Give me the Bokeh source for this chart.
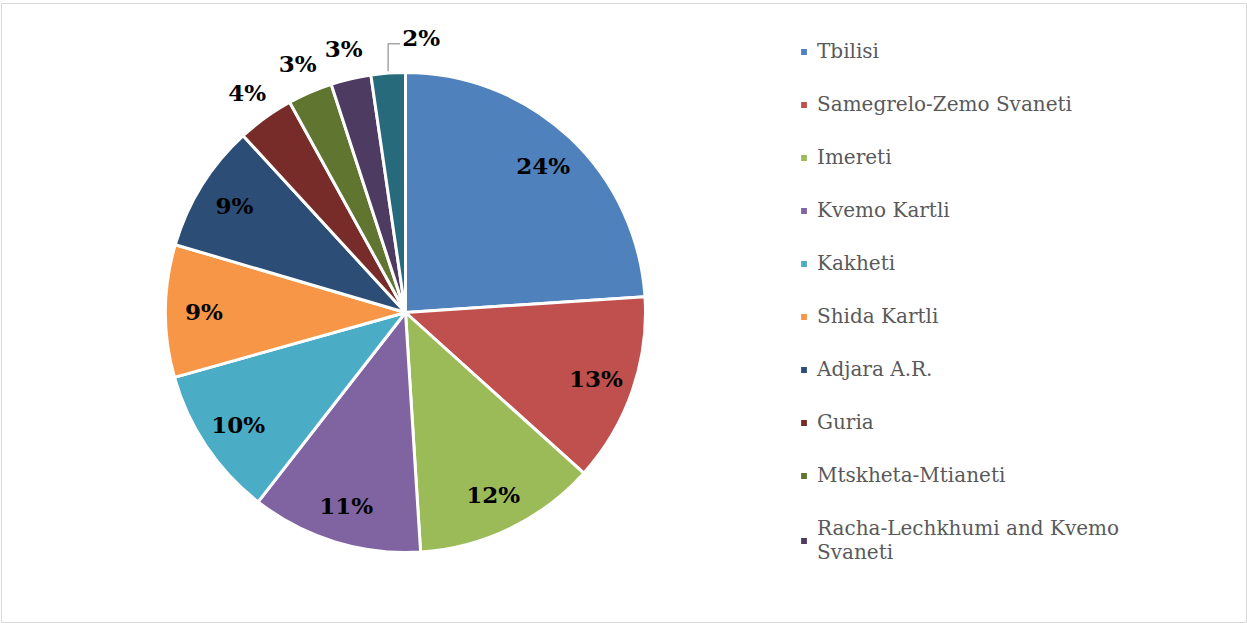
import numpy as np
from bokeh.plotting import figure
from bokeh.models import Range1d, ColumnDataSource, Legend, LegendItem
from bokeh.embed import file_html
from bokeh.resources import INLINE

regions = ["Tbilisi", "Samegrelo-Zemo Svaneti", "Imereti", "Kvemo Kartli", "Kakheti",
           "Shida Kartli", "Adjara A.R.", "Guria", "Mtskheta-Mtianeti",
           "Racha-Lechkhumi and Kvemo\nSvaneti", "Samtskhe-Javakheti"]
shares = [23.9, 12.7, 12.3, 11.5, 10.1, 8.9, 8.6, 3.8, 3.0, 2.7, 2.3]
labels = ["24%", "13%", "12%", "11%", "10%", "9%", "9%", "4%", "3%", "3%", "2%"]
colors = ["#4F81BD", "#C0504D", "#9BBB59", "#8064A2", "#4BACC6", "#F79646",
          "#2C4D75", "#772C2A", "#5F7530", "#4D3B62", "#276A7C"]
legend_count = 10

W, H = 1247, 623
cx, cy, R = 405, 311, 240

vals = np.array(shares, dtype=float)
frac = vals / vals.sum()
ends = np.pi / 2 - 2 * np.pi * np.cumsum(frac)
starts = np.concatenate([[np.pi / 2], ends[:-1]])
mids = (starts + ends) / 2

src = ColumnDataSource(dict(start=starts, end=ends, color=colors, name=regions))

p = figure(width=W, height=H, output_backend="svg", toolbar_location=None,
           x_range=Range1d(1, W), y_range=Range1d(1, H - 3),
           min_border_left=1, min_border_right=0, min_border_top=3, min_border_bottom=1)
p.axis.visible = False
p.grid.visible = False
p.outline_line_color = "#D9D9D9"
p.outline_line_width = 1
p.background_fill_color = "white"
p.border_fill_color = "white"

wr = p.wedge(x=cx, y=cy, radius=R, start_angle="start", end_angle="end",
             direction="clock", fill_color="color", line_color="white",
             line_width=3, source=src)

# data labels
inside = frac >= 0.05
lx, ly, ltxt = [], [], []
for i, (m, f) in enumerate(zip(mids, frac)):
    if i == len(frac) - 1:
        continue
    k = 0.84 if inside[i] else 1.13
    lx.append(cx + k * R * np.cos(m))
    ly.append(cy + k * R * np.sin(m))
    ltxt.append(labels[i])
p.text(x=lx, y=ly, text=ltxt, text_align="center", text_baseline="middle",
       text_font={"value": "DejaVu Serif"}, text_font_style="bold",
       text_font_size="23px", text_color="black")

# last slice: label with leader line
m = mids[-1]
x0 = cx + R * np.cos(m)
y0 = cy + R * np.sin(m)
ytop = cy + 1.12 * R
p.line(x=[x0, x0, x0 + 12], y=[y0 + 2, ytop, ytop], line_color="#A6A6A6", line_width=1.5)
p.text(x=[x0 + 14], y=[ytop + 6], text=[labels[-1]], text_align="left",
       text_baseline="middle", text_font={"value": "DejaVu Serif"},
       text_font_style="bold", text_font_size="23px", text_color="black")

items = [LegendItem(label=regions[i], renderers=[wr], index=i) for i in range(legend_count)]
legend = Legend(items=items, location=(797, 58), orientation="vertical",
                glyph_width=11, glyph_height=11, label_standoff=8,
                label_text_font="DejaVu Serif", label_text_font_size="20px",
                label_text_line_height=1.35,
                label_text_color="#595959", label_height=22, spacing=29,
                padding=0, margin=0, border_line_color=None,
                background_fill_alpha=0)
p.add_layout(legend)

open("out.html", "w").write(file_html(p, INLINE))
